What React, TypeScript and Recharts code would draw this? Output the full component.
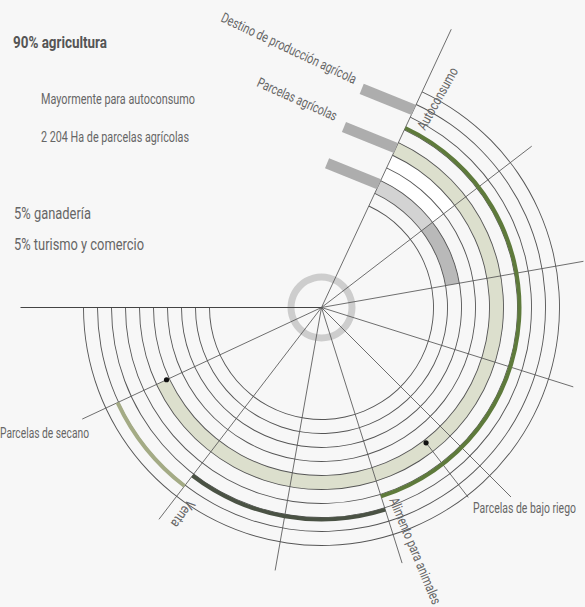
import React from 'react';
import { PieChart, Pie, Cell, ScatterChart, Scatter, XAxis, YAxis } from 'recharts';

// ---------- data ----------
const ringRadii = [112, 126, 140, 154, 168, 182, 196, 210, 224, 238];
const ringSpan = [65, -180];

const radialAngles = [180, 65, 37.5, 10, -17.5, -45, -72.5, -100, -127.5, -155];
const radialLengths = [301, 307, 265, 266, 264, 268, 268, 267, 267, 264];

// inner gray band (two shades) and empty band
const usoNames = ['Uso A', 'Uso B'];
const usoValues = [27.5, 27.5];
const usoColors = ['#d3d3d3', '#b9b9b9'];
const blankValues = [27.5];

// parcelas agrícolas (beige band)
const parcelaNames = ['Parcelas de bajo riego', 'Parcelas de secano'];
const parcelaValues = [117.3, 102.7];

// destino de producción agrícola
const destinoNames = ['Autoconsumo', 'Alimento para animales', 'Venta'];
const destinoValues = [137.5, 55, 27.5];
const destinoRadii = [198, 212, 225];
const destinoColors = ['#5e7a3b', '#4a5244', '#a4ab85'];

// decorative indicator bars (radius where they meet the first axis)
const barRadii = [218, 176, 136];

// ---------- layout ----------
const W = 585;
const H = 607;
const CX = 321.5;
const CY = 307.5;
const START = 65;

const toXY = (a: number, r: number) => ({
  x: CX + r * Math.cos((a * Math.PI) / 180),
  y: CY - r * Math.sin((a * Math.PI) / 180),
});

const NoShape = () => <g />;
const Dot = (p: any) => <circle cx={p.cx} cy={p.cy} r={2.6} fill="#111" />;

const layer: React.CSSProperties = { position: 'absolute', left: 0, top: 0 };

const destinoArcs = (() => {
  let s = START;
  return destinoValues.map((v, i) => {
    const a = { name: destinoNames[i], start: s, end: s - v, r: destinoRadii[i], color: destinoColors[i] };
    s -= v;
    return a;
  });
})();

const parcelaBoundaries = (() => {
  let s = START;
  return parcelaValues.map((v) => {
    s -= v;
    return s;
  });
})();

const radialLines = radialAngles.map((a, i) => [toXY(a, 0), toXY(a, radialLengths[i])]);
const leader = [toXY(parcelaBoundaries[0], 171), toXY(parcelaBoundaries[0], 240)];
const dots = parcelaBoundaries.map((a) => toXY(a, 171));

const barDir = { x: -52, y: -21 };
const barLen = 56;
const bars = barRadii.map((r) => {
  const p = toXY(START, r);
  const n = Math.hypot(barDir.x, barDir.y);
  return [p, { x: p.x + (barDir.x / n) * barLen, y: p.y + (barDir.y / n) * barLen }];
});

const FONT = 'Roboto, "Liberation Sans", sans-serif';
const SY = 1.32; // vertical stretch to imitate a condensed face

type TProps = { x: number; y: number; rot?: number; size: number; len: number; bold?: boolean; children: string };
const T = ({ x, y, rot = 0, size, len, bold, children }: TProps) => (
  <text
    transform={`translate(${x},${y}) rotate(${rot}) scale(1,${SY})`}
    x={0}
    y={0}
    fontSize={size / SY}
    fontWeight={bold ? 700 : 400}
    fill={bold ? '#555' : '#666'}
    textLength={len}
    lengthAdjust="spacingAndGlyphs"
  >
    {children}
  </text>
);

const Axes = () => (
  <>
    <XAxis type="number" dataKey="x" domain={[0, W]} hide />
    <YAxis type="number" dataKey="y" domain={[0, H]} reversed hide />
  </>
);

export default function App() {
  return (
    <div style={{ position: 'absolute', left: 0, top: 0, width: W, height: H, background: '#f7f7f7', overflow: 'hidden' }}>
      {/* bands and rings */}
      <div style={layer}>
        <PieChart width={W} height={H} margin={{ top: 0, right: 0, bottom: 0, left: 0 }}>
          <Pie data={[{ name: 'c', value: 1 }]} dataKey="value" cx={CX} cy={CY} innerRadius={27} outerRadius={34}
            startAngle={0} endAngle={360} stroke="none" fill="#cdcdcd" isAnimationActive={false} />
          <Pie data={blankValues.map((v) => ({ name: 'blank', value: v }))} dataKey="value" cx={CX} cy={CY}
            innerRadius={140} outerRadius={168} startAngle={START} endAngle={START - blankValues[0]}
            stroke="none" fill="#ffffff" isAnimationActive={false} />
          <Pie data={usoValues.map((v, i) => ({ name: usoNames[i], value: v }))} dataKey="value" cx={CX} cy={CY}
            innerRadius={126} outerRadius={140} startAngle={START}
            endAngle={START - usoValues.reduce((a, b) => a + b, 0)} stroke="none" isAnimationActive={false}>
            {usoValues.map((_, i) => <Cell key={i} fill={usoColors[i]} />)}
          </Pie>
          <Pie data={parcelaValues.map((v, i) => ({ name: parcelaNames[i], value: v }))} dataKey="value" cx={CX} cy={CY}
            innerRadius={168} outerRadius={182} startAngle={START}
            endAngle={START - parcelaValues.reduce((a, b) => a + b, 0)} stroke="none" fill="#dcdfcd" isAnimationActive={false} />
          {ringRadii.map((r) => (
            <Pie key={r} data={[{ name: 'ring', value: 1 }]} dataKey="value" cx={CX} cy={CY}
              innerRadius={r - 0.45} outerRadius={r + 0.45} startAngle={ringSpan[0]} endAngle={ringSpan[1]}
              stroke="none" fill="#555" isAnimationActive={false} />
          ))}
        </PieChart>
      </div>
      {/* radial guide lines */}
      <div style={layer}>
        <ScatterChart width={W} height={H} margin={{ top: 0, right: 0, bottom: 0, left: 0 }}>
          {Axes()}
          {radialLines.map((pts, i) => (
            <Scatter key={i} data={pts} fill="#555" line={{ stroke: i === 0 ? '#444' : '#555', strokeWidth: i === 0 ? 1.1 : 0.85 }}
              shape={NoShape} isAnimationActive={false} />
          ))}
          <Scatter data={leader} fill="#555" line={{ stroke: '#555', strokeWidth: 0.85 }} shape={NoShape} isAnimationActive={false} />
        </ScatterChart>
      </div>
      {/* destino arcs */}
      <div style={layer}>
        <PieChart width={W} height={H} margin={{ top: 0, right: 0, bottom: 0, left: 0 }}>
          {destinoArcs.map((d) => (
            <Pie key={d.name} data={[{ name: d.name, value: 1 }]} dataKey="value" cx={CX} cy={CY}
              innerRadius={d.r - 2} outerRadius={d.r + 2} startAngle={d.start} endAngle={d.end}
              stroke="none" fill={d.color} isAnimationActive={false} />
          ))}
        </PieChart>
      </div>
      {/* bars and dots */}
      <div style={layer}>
        <ScatterChart width={W} height={H} margin={{ top: 0, right: 0, bottom: 0, left: 0 }}>
          {Axes()}
          {bars.map((pts, i) => (
            <Scatter key={i} data={pts} fill="#adadad" line={{ stroke: '#adadad', strokeWidth: 11 }}
              shape={NoShape} isAnimationActive={false} />
          ))}
          <Scatter data={dots} fill="#111" shape={Dot} isAnimationActive={false} />
        </ScatterChart>
      </div>
      {/* texts */}
      <svg style={layer} width={W} height={H}>
        <g fontFamily={FONT}>
          <T x={13} y={48} size={16} len={94} bold>90% agricultura</T>
          <T x={41} y={104} size={14} len={154}>Mayormente para autoconsumo</T>
          <T x={41} y={141.5} size={14} len={148}>2 204 Ha de parcelas agrícolas</T>
          <T x={14} y={219} size={17} len={77}>5% ganadería</T>
          <T x={14} y={250} size={17} len={130}>5% turismo y comercio</T>
          <T x={0} y={438} size={14} len={89}>Parcelas de secano</T>
          <T x={473} y={512.5} size={14.5} len={103}>Parcelas de bajo riego</T>
          <T x={220} y={21} rot={25.3} size={14} len={148}>Destino de producción agrícola</T>
          <T x={256} y={86} rot={24} size={14} len={86}>Parcelas agrícolas</T>
          <T x={425} y={131} rot={-61} size={14} len={69}>Autoconsumo</T>
          <T x={389} y={500} rot={67.5} size={14} len={114}>Alimento para animales</T>
          <T x={188} y={499} rot={126} size={14} len={30}>Venta</T>
        </g>
      </svg>
    </div>
  );
}
